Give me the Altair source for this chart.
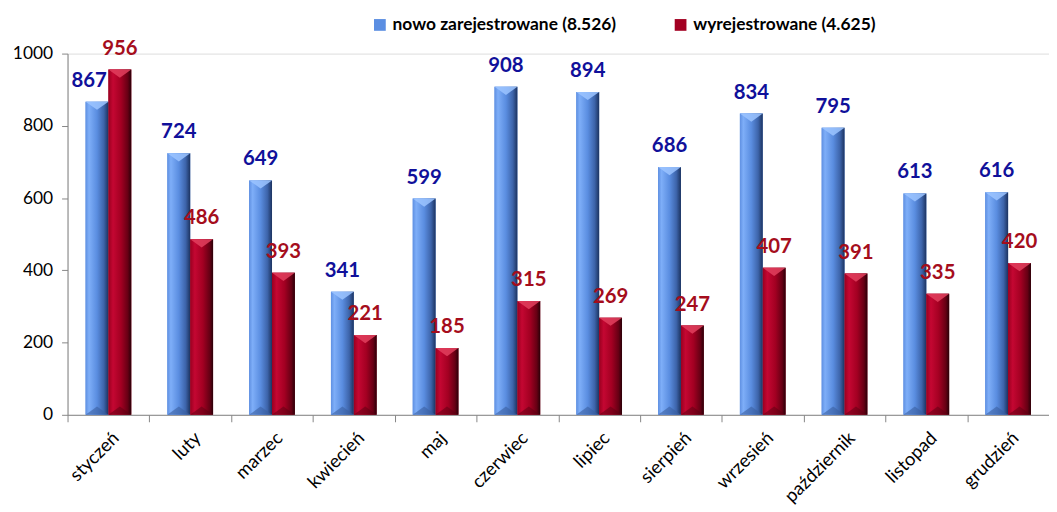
import altair as alt
import pandas as pd

months = ["styczeń", "luty", "marzec", "kwiecień", "maj", "czerwiec",
          "lipiec", "sierpień", "wrzesień", "październik", "listopad", "grudzień"]
new_reg = [867, 724, 649, 341, 599, 908, 894, 686, 834, 795, 613, 616]
dereg = [956, 486, 393, 221, 185, 315, 269, 247, 407, 391, 335, 420]
series_names = ["nowo zarejestrowane (8.526)", "wyrejestrowane (4.625)"]
y_ticks = [0, 200, 400, 600, 800, 1000]

rows = []
for m, a, b in zip(months, new_reg, dereg):
    rows.append({"miesiac": m, "seria": series_names[0], "wartosc": a, "zero": 0})
    rows.append({"miesiac": m, "seria": series_names[1], "wartosc": b, "zero": 0})
df = pd.DataFrame(rows)

FONT = "Lato"

x = alt.X("miesiac:N", sort=months, title=None,
          scale=alt.Scale(paddingInner=0, paddingOuter=0),
          axis=alt.Axis(labelAngle=-45, labelAlign="right", labelBaseline="middle",
                        tickBand="extent", tickSize=7, labelPadding=13, labelOffset=7,
                        labelFontSize=18.5, labelFont=FONT, labelColor="#000000",
                        domainColor="#868686", tickColor="#868686"))
xo = alt.XOffset("seria:N", sort=series_names,
                 scale=alt.Scale(domain=series_names, paddingInner=0, paddingOuter=0.79))
y = alt.Y("wartosc:Q", title=None,
          scale=alt.Scale(domain=[0, 1000], nice=False),
          axis=alt.Axis(values=y_ticks, format="d", grid=False, tickSize=6, labelPadding=9,
                        labelFontSize=17.5, labelFont=FONT, labelColor="#000000",
                        domainColor="#868686", tickColor="#868686"))

base = alt.Chart(df).encode(x=x, xOffset=xo, y=y)

legend_bars = base.mark_bar().encode(
    color=alt.Color("seria:N", sort=series_names,
                    scale=alt.Scale(domain=series_names, range=["#5b8ee2", "#a30022"]),
                    legend=alt.Legend(title=None, orient="none", direction="horizontal",
                                      legendX=306, legendY=-38, symbolType="square",
                                      symbolSize=140, symbolStrokeWidth=0,
                                      labelFont=FONT, labelFontSize=17.5, labelFontWeight="bold",
                                      labelColor="#000000", labelLimit=0, labelOffset=4,
                                      columnPadding=56, padding=0))
)

grad_blue = alt.Gradient(gradient="linear", x1=0, x2=1, y1=0, y2=0, stops=[
    alt.GradientStop(offset=0, color="#5f90e2"),
    alt.GradientStop(offset=0.15, color="#7eaef8"),
    alt.GradientStop(offset=0.5, color="#5a8de0"),
    alt.GradientStop(offset=0.8, color="#3d64aa"),
    alt.GradientStop(offset=1, color="#1c3360"),
])
grad_red = alt.Gradient(gradient="linear", x1=0, x2=1, y1=0, y2=0, stops=[
    alt.GradientStop(offset=0, color="#9a0020"),
    alt.GradientStop(offset=0.2, color="#c40732"),
    alt.GradientStop(offset=0.55, color="#a30022"),
    alt.GradientStop(offset=0.85, color="#660014"),
    alt.GradientStop(offset=1, color="#2a0008"),
])

blue_f = alt.datum.seria == series_names[0]
red_f = alt.datum.seria == series_names[1]
first_month = alt.datum.miesiac == months[0]

blue_bars = base.transform_filter(blue_f).mark_bar(color=grad_blue)
red_bars = base.transform_filter(red_f).mark_bar(color=grad_red)

TOP_TRI = "M-1,0L1,0L0,0.72Z"
BOT_TRI = "M-1,0L1,0L0,-0.72Z"
BAR_SYM = 529

blue_top = base.transform_filter(blue_f).mark_point(
    shape=TOP_TRI, size=BAR_SYM, filled=True, color="#9cc4ff", opacity=0.85, strokeWidth=0)
red_top = base.transform_filter(red_f).mark_point(
    shape=TOP_TRI, size=BAR_SYM, filled=True, color="#e2405e", opacity=0.85, strokeWidth=0)
blue_bot = base.transform_filter(blue_f).mark_point(
    shape=BOT_TRI, size=BAR_SYM, filled=True, color="#3a5fa0", opacity=0.6, strokeWidth=0
).encode(y=alt.Y("zero:Q"))
red_bot = base.transform_filter(red_f).mark_point(
    shape=BOT_TRI, size=BAR_SYM, filled=True, color="#5a0012", opacity=0.5, strokeWidth=0
).encode(y=alt.Y("zero:Q"))

text_style = dict(font=FONT, fontSize=20.5, fontWeight="bold", baseline="alphabetic", dy=-15)

blue_text = base.transform_filter(blue_f).transform_filter(~first_month).mark_text(
    color="#10109a", **text_style).encode(text="wartosc:Q")
blue_text_first = base.transform_filter(blue_f).transform_filter(first_month).mark_text(
    color="#10109a", dx=-8, **text_style).encode(text="wartosc:Q")
red_text = base.transform_filter(red_f).mark_text(
    color="#a50d1c", **text_style).encode(text="wartosc:Q")

chart = alt.layer(legend_bars, blue_bars, red_bars, blue_top, red_top, blue_bot, red_bot,
                  blue_text, blue_text_first, red_text).properties(
    width=989, height=364,
    autosize=alt.AutoSizeParams(type="none"),
    padding={"left": 60, "top": 44, "right": 0, "bottom": 96},
).configure_view(stroke=None).configure(background="white")

chart.save("out.html", embed_options={"renderer": "svg", "actions": False})
